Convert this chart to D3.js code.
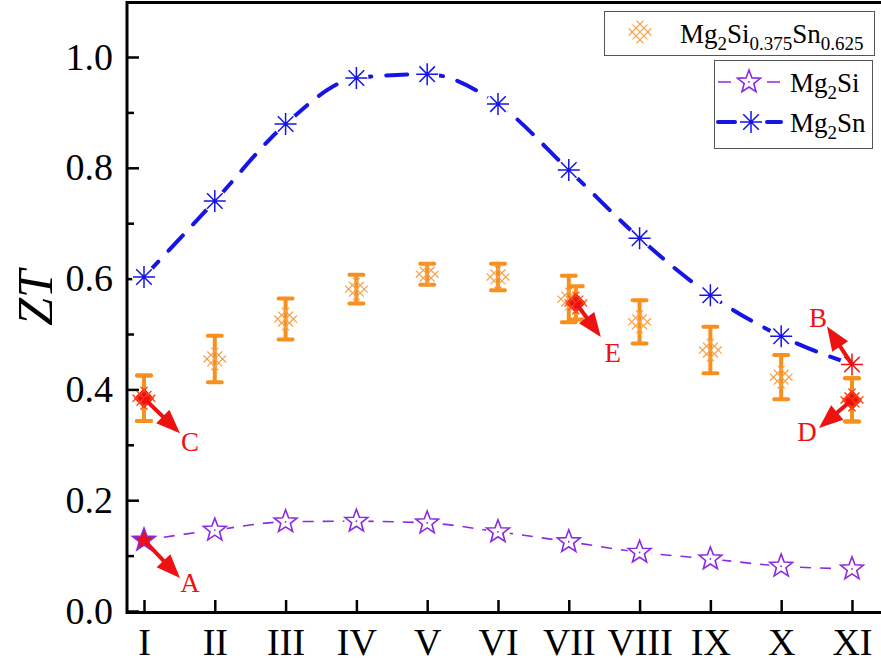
<!DOCTYPE html>
<html>
<head>
<meta charset="utf-8">
<script src="https://cdn.jsdelivr.net/npm/d3@7"></script>
<style>
  body { margin: 0; background: #fff; }
  text { font-family: "Liberation Serif", "Times New Roman", serif; }
</style>
</head>
<body>
<svg id="chart" width="881" height="664"></svg>
<script>
// samples on the x axis
const categories = ['I', 'II', 'III', 'IV', 'V', 'VI', 'VII', 'VIII', 'IX', 'X', 'XI'];

// ZT values
const mg2sn = [0.603, 0.740, 0.879, 0.962, 0.969, 0.915, 0.796, 0.673, 0.570, 0.496, 0.445];
const mg2si = [0.128, 0.146, 0.161, 0.162, 0.159, 0.143, 0.125, 0.106, 0.094, 0.081, 0.076];
const alloy = [0.384, 0.455, 0.527, 0.581, 0.608, 0.603, 0.563, 0.522, 0.471, 0.422, 0.381];
const alloyErr = [0.041, 0.042, 0.037, 0.026, 0.019, 0.024, 0.042, 0.039, 0.042, 0.040, 0.039];

// red highlighted alloy points (VII sits a little to the right)
const highlightX = [1, 7.1, 11];
const highlightZT = [0.384, 0.556, 0.381];
const highlightErr = [0.041, 0.030, 0.039];

const yTicks = [0, 0.2, 0.4, 0.6, 0.8, 1.0];
const yMinor = [0.1, 0.3, 0.5, 0.7, 0.9];

const blue = '#1515e6', purple = '#8a2be2', orange = '#f7901e', hatch = '#f5a04a', red = '#ee1111';

const svg = d3.select('#chart');
const x = d3.scaleLinear().domain([0.76, 11.41]).range([127, 881]);
const y = d3.scaleLinear().domain([0, 1.1]).range([611, 1.6]);

// axes
const xAxis = svg.append('g')
  .attr('transform', 'translate(0,611)')
  .call(d3.axisBottom(x).tickValues(d3.range(1, 12)).tickFormat(i => categories[i - 1])
    .tickSizeInner(-11).tickSizeOuter(0).tickPadding(17));
const yAxis = svg.append('g')
  .attr('transform', 'translate(127,0)')
  .call(d3.axisLeft(y).tickValues(yTicks).tickFormat(d3.format('.1f'))
    .tickSizeInner(-12).tickSizeOuter(0).tickPadding(14));
const yAxisMinor = svg.append('g')
  .attr('transform', 'translate(127,0)')
  .call(d3.axisLeft(y).tickValues(yMinor).tickFormat('').tickSizeInner(-7).tickSizeOuter(0));

[xAxis, yAxis, yAxisMinor].forEach(g => {
  g.select('.domain').remove();
  g.selectAll('line').attr('stroke', '#000').attr('stroke-width', 2.5);
  g.selectAll('text').attr('font-family', '"Liberation Serif", serif').attr('font-size', 38).attr('fill', '#000');
});

// frame
svg.append('path')
  .attr('d', 'M127,2.5H885M127,1V612.5H885')
  .attr('fill', 'none')
  .attr('stroke', '#000')
  .attr('stroke-width', 3);

svg.append('text')
  .attr('transform', 'translate(52,298) rotate(-90)')
  .attr('text-anchor', 'middle')
  .attr('font-size', 50)
  .attr('font-style', 'italic')
  .text('ZT');

// spline lines
const line = d3.line()
  .x((d, i) => x(i + 1))
  .y(d => y(d))
  .curve(d3.curveMonotoneX);

svg.append('path')
  .attr('d', line(mg2sn))
  .attr('fill', 'none')
  .attr('stroke', blue)
  .attr('stroke-width', 4)
  .attr('stroke-linecap', 'round')
  .attr('stroke-dasharray', '21,15');

svg.append('path')
  .attr('d', line(mg2si))
  .attr('fill', 'none')
  .attr('stroke', purple)
  .attr('stroke-width', 1.6)
  .attr('stroke-dasharray', '11,9');

// white gaps around markers
svg.append('g').selectAll('circle')
  .data(mg2sn.concat(mg2si))
  .join('circle')
  .attr('cx', (d, i) => x((i % 11) + 1))
  .attr('cy', d => y(d))
  .attr('r', 12)
  .attr('fill', '#fff');

// marker shapes
function starPath(r) {
  const pts = [];
  for (let k = 0; k < 10; k++) {
    const a = -Math.PI / 2 + k * Math.PI / 5;
    const rr = k % 2 ? r * 0.42 : r;
    pts.push([rr * Math.cos(a), rr * Math.sin(a)]);
  }
  return 'M' + pts.map(p => p.join(',')).join('L') + 'Z';
}
function asteriskPath(r) {
  let d = '';
  for (let k = 0; k < 4; k++) {
    const a = k * Math.PI / 4;
    d += `M${-r * Math.cos(a)},${-r * Math.sin(a)}L${r * Math.cos(a)},${r * Math.sin(a)}`;
  }
  return d;
}
// rotated 3x3 grid of diagonal strokes
function hatchPath(s, L) {
  const r = Math.SQRT1_2;
  let d = '';
  [-1, 0, 1].forEach(k => {
    const o = k * s;
    // direction (1,1), offset along (1,-1)
    d += `M${o * r - L * r},${-o * r - L * r}L${o * r + L * r},${-o * r + L * r}`;
    // direction (1,-1), offset along (1,1)
    d += `M${o * r - L * r},${o * r + L * r}L${o * r + L * r},${o * r - L * r}`;
  });
  return d;
}

function addStar(g, cx, cy, fill) {
  g.append('path').attr('transform', `translate(${cx},${cy})`)
    .attr('d', starPath(12)).attr('fill', fill).attr('stroke', purple).attr('stroke-width', 1.6);
  g.append('circle').attr('cx', cx).attr('cy', cy).attr('r', 0.9).attr('fill', purple);
}
function addAsterisk(g, cx, cy, color) {
  g.append('path').attr('transform', `translate(${cx},${cy})`)
    .attr('d', asteriskPath(11)).attr('stroke', color).attr('stroke-width', 1.5).attr('fill', 'none');
}
function addErrorBar(g, cx, v, e) {
  const y0 = y(v - e), y1 = y(v + e);
  g.append('path')
    .attr('d', `M${cx},${y0}V${y1}M${cx - 7},${y0}H${cx + 7}M${cx - 7},${y1}H${cx + 7}`)
    .attr('stroke', orange).attr('stroke-width', 4).attr('stroke-linecap', 'round').attr('fill', 'none');
}
function addHatch(g, cx, cy, filled) {
  if (filled) {
    g.append('path').attr('transform', `translate(${cx},${cy})`)
      .attr('d', 'M0,-10L10,0L0,10L-10,0Z').attr('fill', red);
  }
  g.append('path').attr('transform', `translate(${cx},${cy})`)
    .attr('d', hatchPath(5.5, 10.5)).attr('fill', 'none')
    .attr('stroke', filled ? '#ff4a10' : hatch).attr('stroke-width', 1.2);
}

const marks = svg.append('g');
alloy.forEach((v, i) => addErrorBar(marks, x(i + 1), v, alloyErr[i]));
alloy.forEach((v, i) => addHatch(marks, x(i + 1), y(v), false));
mg2si.forEach((v, i) => addStar(marks, x(i + 1), y(v), i === 0 ? red : '#fff'));
mg2sn.forEach((v, i) => addAsterisk(marks, x(i + 1), y(v), i === 10 ? red : blue));
highlightX.forEach((hx, i) => addErrorBar(marks, x(hx), highlightZT[i], highlightErr[i]));
highlightX.forEach((hx, i) => addHatch(marks, x(hx), y(highlightZT[i]), true));

// annotations: arrow tip and label placed relative to the marked point
const notes = [
  { label: 'A', px: 1, pv: mg2si[0], tip: [36, 38], text: [46, 43] },
  { label: 'C', px: 1, pv: highlightZT[0], tip: [36, 35], text: [46, 44] },
  { label: 'E', px: 7.1, pv: highlightZT[1], tip: [25, 34], text: [37, 50] },
  { label: 'B', px: 11, pv: mg2sn[10], tip: [-25, -38], text: [-34, -46] },
  { label: 'D', px: 11, pv: highlightZT[2], tip: [-33, 28], text: [-45, 32] }
];
const ann = svg.append('g');
notes.forEach(n => {
  const sx = x(n.px), sy = y(n.pv);
  const [dx, dy] = n.tip;
  const L = Math.hypot(dx, dy), ux = dx / L, uy = dy / L;
  const head = 24, half = 9.5;
  const bx = sx + ux * (L - head), by = sy + uy * (L - head);
  ann.append('line').attr('x1', sx).attr('y1', sy).attr('x2', bx + ux * 2).attr('y2', by + uy * 2)
    .attr('stroke', red).attr('stroke-width', 4);
  ann.append('path')
    .attr('d', `M${sx + dx},${sy + dy}L${bx - uy * half},${by + ux * half}L${bx + uy * half},${by - ux * half}Z`)
    .attr('fill', red);
  ann.append('text')
    .attr('x', sx + n.text[0]).attr('y', sy + n.text[1] + 9)
    .attr('text-anchor', 'middle').attr('font-size', 27).attr('fill', red)
    .text(n.label);
});

// legends
function formula(g, tx, ty, parts) {
  const t = g.append('text').attr('x', tx).attr('y', ty).attr('font-size', 27).attr('fill', '#000');
  let shift = 0;
  parts.forEach(([s, sub]) => {
    const dy = sub ? 7 - shift : -shift;
    shift = sub ? 7 : 0;
    t.append('tspan').attr('dy', dy).attr('font-size', sub ? 19 : 27).text(s);
  });
}
const leg = svg.append('g');
leg.append('rect').attr('x', 604.5).attr('y', 11.5).attr('width', 270).attr('height', 44)
  .attr('fill', '#fff').attr('stroke', '#555').attr('stroke-width', 1);
addHatch(leg, 640, 32, false);
formula(leg, 680, 43, [['Mg', 0], ['2', 1], ['Si', 0], ['0.375', 1], ['Sn', 0], ['0.625', 1]]);

leg.append('rect').attr('x', 714.5).attr('y', 60.5).attr('width', 158).attr('height', 88)
  .attr('fill', '#fff').attr('stroke', '#555').attr('stroke-width', 1);
leg.append('path').attr('d', 'M718,82H731M767,82H780')
  .attr('stroke', purple).attr('stroke-width', 1.6);
addStar(leg, 749, 82, '#fff');
formula(leg, 790, 92, [['Mg', 0], ['2', 1], ['Si', 0]]);
leg.append('path').attr('d', 'M718,122H735M767,122H781')
  .attr('stroke', blue).attr('stroke-width', 4).attr('stroke-linecap', 'round');
addAsterisk(leg, 751, 122, blue);
formula(leg, 790, 132, [['Mg', 0], ['2', 1], ['Sn', 0]]);
</script>
</body>
</html>
